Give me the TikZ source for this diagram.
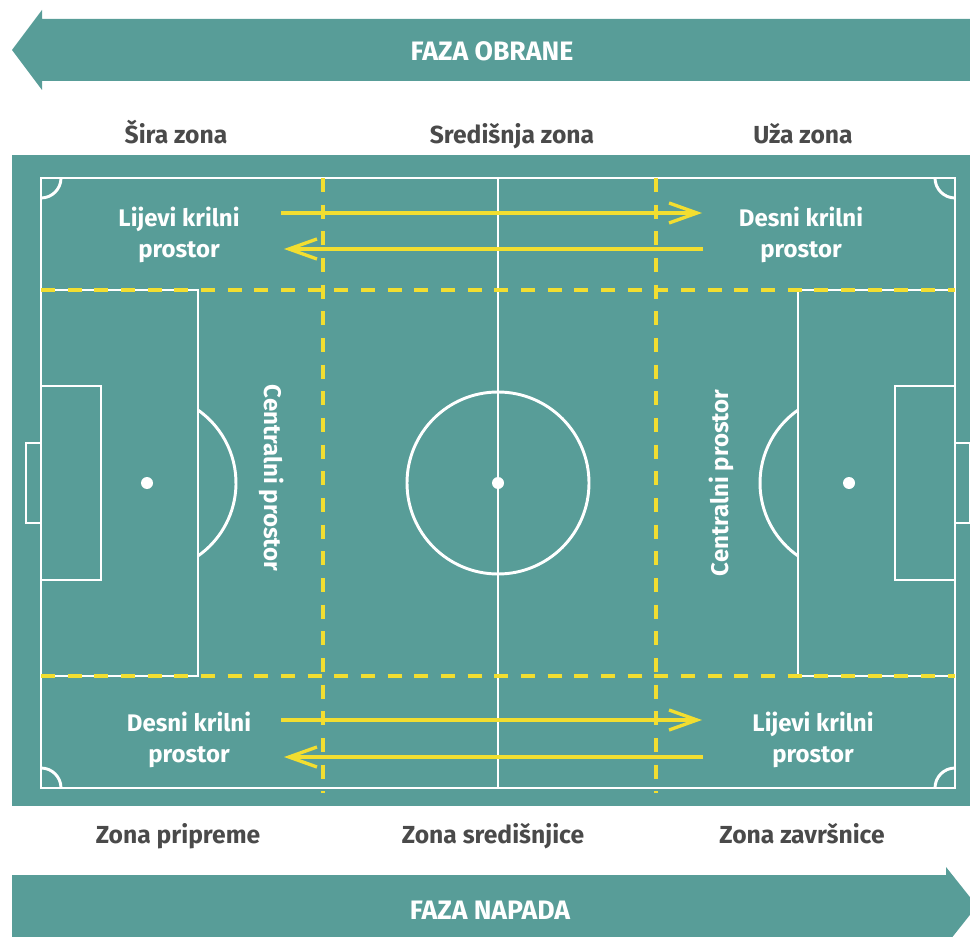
\documentclass[tikz,border=0pt]{standalone}
\usepackage{fontspec}
\setmainfont{Fira Sans}
\usetikzlibrary{arrows.meta,positioning}

\definecolor{turf}{HTML}{589D98}
\definecolor{runyellow}{HTML}{F2DE30}
\definecolor{zonegray}{HTML}{4A4A4A}

\begin{document}
\begin{tikzpicture}[
    x=0.75pt, y=-0.75pt,
    chalk/.style={draw=white, line width=2.2pt},
    zoneline/.style={draw=runyellow, line width=2.6pt, dash pattern=on 10.5pt off 9.5pt},
    run/.style={draw=runyellow, line width=2.5pt, -{Straight Barb[length=21pt, width=15pt, line width=2.5pt]}},
    phase/.style={text=white, font=\bfseries\fontsize{20}{24}\selectfont, anchor=base},
    zonelabel/.style={text=zonegray, font=\bfseries\fontsize{18.5}{22}\selectfont, anchor=base},
    wing/.style={text=white, font=\bfseries\fontsize{18}{23}\selectfont, align=center},
    centre/.style={text=white, font=\bfseries\fontsize{18}{21}\selectfont}
]
\useasboundingbox (0,0) rectangle (970,937);
\clip (0,0) rectangle (970,937);

% Phase arrows
\fill[turf] (12,50) -- (42,10) -- (42,19) -- (975,19) -- (975,81) -- (42,81) -- (42,90) -- cycle;
\fill[turf] (12,875) -- (946,875) -- (946,867) -- (977,906) -- (946,945) -- (946,937) -- (12,937) -- cycle;
\node[phase] (defence) at (492,61) {FAZA OBRANE};
\node[phase] (attack) at (490,919) {FAZA NAPADA};

% Pitch
\fill[turf] (12,155) rectangle (975,806);
\draw[chalk] (41,178) rectangle (955,788);
\draw[chalk] (498,178) -- (498,788);
\draw[chalk] (498,483) circle[radius=68.25pt];
\fill[white] (498,483) circle[radius=4.5pt];

% Left end
\draw[chalk] (41,290) rectangle (198,676);
\draw[chalk] (41,386) rectangle (101,580);
\draw[chalk] (41,443) -- (26,443) -- (26,523) -- (41,523);
\fill[white] (147,483) circle[radius=4.5pt];
\draw[chalk] (147,483) ++(55:66.75pt) arc[start angle=55, end angle=-55, radius=66.75pt];

% Right end
\draw[chalk] (955,290) rectangle (798,676);
\draw[chalk] (955,386) rectangle (895,580);
\draw[chalk] (955,443) -- (970,443) -- (970,523) -- (955,523);
\fill[white] (849,483) circle[radius=4.5pt];
\draw[chalk] (849,483) ++(125:66.75pt) arc[start angle=125, end angle=235, radius=66.75pt];

% Corners
\draw[chalk] (41,178) ++(15pt,0) arc[start angle=0, end angle=-90, radius=15pt];
\draw[chalk] (955,178) ++(-15pt,0) arc[start angle=180, end angle=270, radius=15pt];
\draw[chalk] (41,788) ++(15pt,0) arc[start angle=0, end angle=90, radius=15pt];
\draw[chalk] (955,788) ++(-15pt,0) arc[start angle=180, end angle=90, radius=15pt];

% Zone borders
\draw[zoneline] (323,178) -- (323,793);
\draw[zoneline] (656,178) -- (656,793);
\draw[zoneline] (41,290) -- (955,290);
\draw[zoneline] (41,676) -- (955,676);

% Zone labels
\node[zonelabel] (wide) at (176,144) {Šira zona};
\node[zonelabel] (middle) at (512,144) {Središnja zona};
\node[zonelabel] (narrow) at (803,144) {Uža zona};
\node[zonelabel] (prep) at (178,843) {Zona pripreme};
\node[zonelabel] (mid) at (493,843) {Zona središnjice};
\node[zonelabel] (final) at (802,843) {Zona završnice};

% Wing spaces
\node[wing] (topleft) at (179,235) {Lijevi krilni\\prostor};
\node[wing] (topright) at (801,235) {Desni krilni\\prostor};
\node[wing] (botleft) at (189,740) {Desni krilni\\prostor};
\node[wing] (botright) at (813,740) {Lijevi krilni\\prostor};
\node[centre, rotate=-90] (centreleft) at (272,478) {Centralni prostor};
\node[centre, rotate=90] (centreright) at (721,483) {Centralni prostor};

% Switches of play
\coordinate (ta) at (281,213);
\coordinate (tb) at (702,213);
\coordinate (tc) at (703,249);
\coordinate (td) at (284,249);
\coordinate (ba) at (281,720);
\coordinate (bb) at (702,720);
\coordinate (bc) at (703,757);
\coordinate (bd) at (284,757);
\draw[run] (ta) -- (tb);
\draw[run] (tc) -- (td);
\draw[run] (ba) -- (bb);
\draw[run] (bc) -- (bd);

\end{tikzpicture}
\end{document}
